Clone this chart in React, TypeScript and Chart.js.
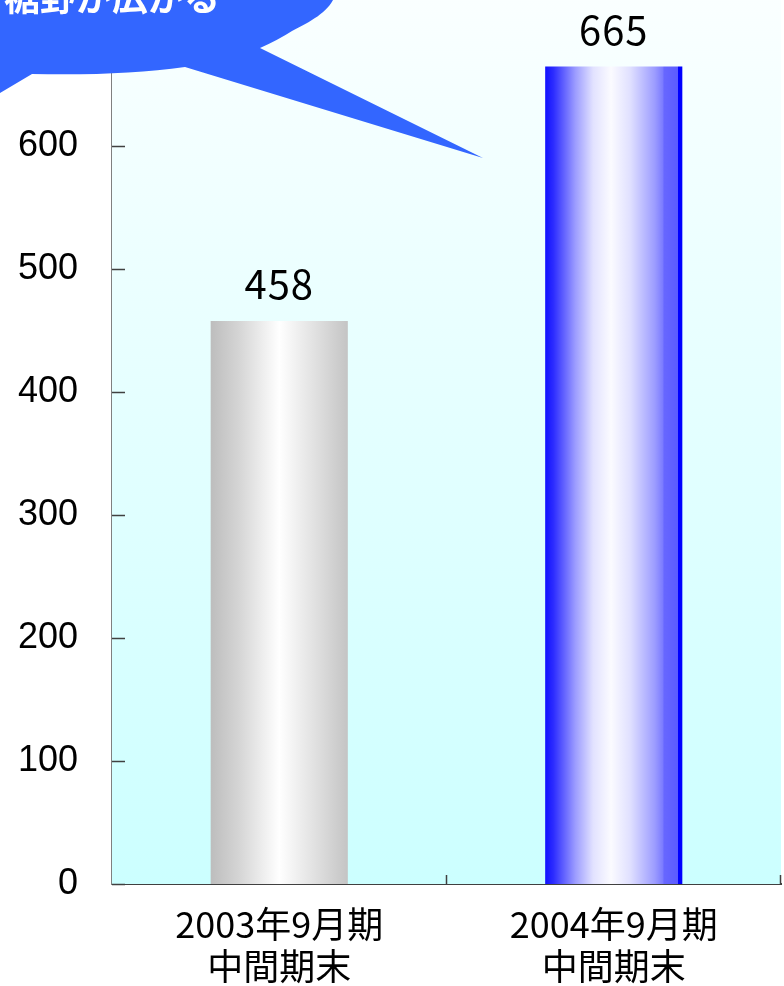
import React, { useEffect, useRef } from 'react';
import { Chart, registerables } from 'chart.js';

Chart.register(...registerables);

// ---- data ----
const categories: string[][] = [
  ['2003年9月期', '中間期末'],
  ['2004年9月期', '中間期末'],
];
const values: number[] = [458, 665];
const yMin = 0;
const yMax = 800;
const yStep = 100;
const calloutText = '裾野が広がる';

// ---- styling constants ----
const OFFSET = 155; // canvas is shifted up so the plot area runs off the top
const BAR_PCT = 0.41;

const barStops: [number, string][][] = [
  [
    [0, '#bdbdbd'],
    [0.2, '#d4d4d4'],
    [0.5, '#ffffff'],
    [0.8, '#dcdcdc'],
    [1, '#c4c4c4'],
  ],
  [
    [0, '#1010ff'],
    [0.06, '#2c2cff'],
    [0.22, '#9c9cff'],
    [0.35, '#e2e2ff'],
    [0.48, '#fbfbff'],
    [0.62, '#e0e0ff'],
    [0.8, '#9c9cff'],
    [0.86, '#7a7aff'],
    [0.865, '#6767ff'],
    [0.965, '#5c5cff'],
    [0.97, '#0000ff'],
    [1, '#0000ff'],
  ],
];

const fallbackColors = ['#d0d0d0', '#6666ff'];

const bgPlugin = {
  id: 'plotBg',
  beforeDatasetsDraw(chart: any) {
    const { ctx, chartArea: a } = chart;
    const g = ctx.createLinearGradient(0, a.top, 0, a.bottom);
    g.addColorStop(0, '#ffffff');
    g.addColorStop(1, '#ccffff');
    ctx.save();
    ctx.fillStyle = g;
    ctx.fillRect(a.left, a.top, a.right - a.left, a.bottom - a.top);
    ctx.restore();
  },
};

const labelPlugin = {
  id: 'valueLabels',
  afterDatasetsDraw(chart: any) {
    const { ctx } = chart;
    const meta = chart.getDatasetMeta(0);
    ctx.save();
    ctx.font = '40px "Noto Sans CJK JP"';
    ctx.fillStyle = '#000000';
    ctx.textAlign = 'center';
    ctx.textBaseline = 'middle';
    try { (ctx as any).letterSpacing = '1px'; } catch (e) {}
    meta.data.forEach((bar: any, i: number) => {
      ctx.fillText(String(values[i]), bar.x, bar.y - 37);
    });
    ctx.restore();
  },
};

const tickPlugin = {
  id: 'innerTicks',
  afterDraw(chart: any) {
    const { ctx, chartArea: a } = chart;
    const ys = chart.scales.y;
    ctx.save();
    ctx.strokeStyle = '#404040';
    ctx.lineWidth = 1.5;
    ctx.beginPath();
    for (let v = yMin; v <= yMax; v += yStep) {
      const y = Math.round(ys.getPixelForValue(v)) + 0.5;
      ctx.moveTo(a.left, y);
      ctx.lineTo(a.left + 13, y);
    }
    const n = categories.length;
    const cw = (a.right - a.left) / n;
    for (let i = 1; i <= n; i++) {
      const x = Math.round(a.left + i * cw) - 0.5;
      ctx.moveTo(x, a.bottom);
      ctx.lineTo(x, a.bottom - 9);
    }
    ctx.stroke();
    ctx.restore();
  },
};

const calloutPlugin = {
  id: 'callout',
  afterDraw(chart: any) {
    const { ctx } = chart;
    const o = OFFSET;
    ctx.save();
    ctx.fillStyle = '#3366ff';
    ctx.beginPath();
    ctx.moveTo(-10, -60 + o);
    ctx.lineTo(336, -60 + o);
    ctx.lineTo(334, -2 + o);
    ctx.bezierCurveTo(328, 12 + o, 310, 22 + o, 292, 31 + o);
    ctx.quadraticCurveTo(278, 40 + o, 260, 48 + o);
    ctx.lineTo(483, 158 + o);
    ctx.lineTo(185, 67 + o);
    ctx.quadraticCurveTo(120, 76 + o, 32, 74 + o);
    ctx.lineTo(0, 93 + o);
    ctx.lineTo(-10, 93 + o);
    ctx.closePath();
    ctx.fill();
    ctx.fillStyle = '#ffffff';
    ctx.font = 'bold 36px "Noto Sans CJK JP"';
    ctx.textAlign = 'left';
    ctx.textBaseline = 'alphabetic';
    ctx.fillText(calloutText, 4, 11 + o);
    ctx.restore();
  },
};

export default function App() {
  const ref = useRef<HTMLCanvasElement | null>(null);

  useEffect(() => {
    if (!ref.current) return;
    const chart = new Chart(ref.current, {
      type: 'bar',
      data: {
        labels: categories,
        datasets: [
          {
            data: values,
            borderWidth: 0,
            barPercentage: BAR_PCT,
            categoryPercentage: 1,
            backgroundColor: (c: any) => {
              const idx = typeof c.dataIndex === 'number' ? c.dataIndex : 0;
              const fb = fallbackColors[idx % fallbackColors.length];
              const ch = c.chart;
              const xs = ch && ch.scales && ch.scales.x;
              if (!xs || c.type !== 'data') return fb;
              const n = categories.length;
              const w = ((xs.right - xs.left) / n) * BAR_PCT;
              const cx = xs.getPixelForValue(idx);
              if (!Number.isFinite(w) || !Number.isFinite(cx) || w <= 0) return fb;
              const g = ch.ctx.createLinearGradient(cx - w / 2, 0, cx + w / 2, 0);
              barStops[idx % barStops.length].forEach(([p, col]) => g.addColorStop(p, col));
              return g;
            },
          },
        ],
      },
      options: {
        animation: false,
        responsive: true,
        maintainAspectRatio: false,
        layout: { padding: { top: 30, right: 3, left: 0, bottom: 0 } },
        plugins: { legend: { display: false }, tooltip: { enabled: false } },
        scales: {
          x: {
            offset: true,
            grid: { display: false, drawTicks: false },
            border: { display: true, color: '#404040', width: 2 },
            ticks: {
              color: '#000000',
              padding: 19,
              maxRotation: 0,
              font: { family: '"Noto Sans CJK JP"', size: 36, lineHeight: 1.17 },
            },
            afterFit: (s: any) => { s.height = 102; },
          },
          y: {
            min: yMin,
            max: yMax,
            grid: { display: false, drawTicks: false },
            border: { display: true, color: '#808080', width: 2 },
            ticks: {
              stepSize: yStep,
              color: '#000000',
              padding: 34,
              font: { family: '"Liberation Sans", Arial', size: 36 },
            },
            afterFit: (s: any) => { s.width = 112; },
          },
        },
      },
      plugins: [bgPlugin, labelPlugin, tickPlugin, calloutPlugin],
    });
    return () => chart.destroy();
  }, []);

  return (
    <div style={{ position: 'absolute', left: 0, top: -OFFSET, width: 784, height: 986 + OFFSET }}>
      <canvas ref={ref} />
    </div>
  );
}
